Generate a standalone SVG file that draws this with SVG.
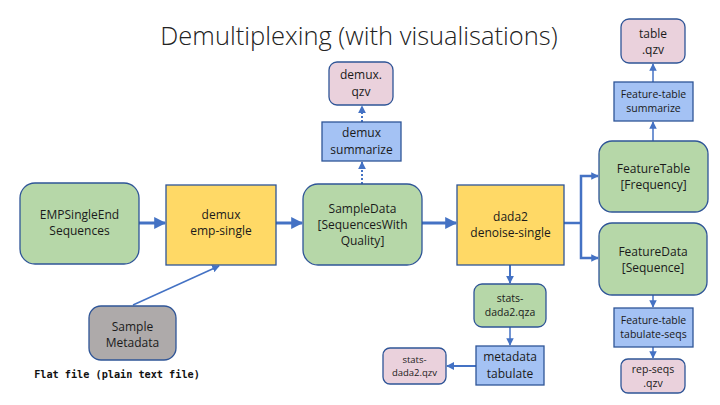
<svg xmlns="http://www.w3.org/2000/svg" width="720" height="405" viewBox="0 0 720 405">
<style>
text{font-family:"Open Sans","Liberation Sans",sans-serif;fill:#1a1a1a;text-anchor:middle}
.t{font-size:12px}
.s{font-size:10.5px}
.xs{font-size:9.5px}
.g{fill:#B6D7A8;stroke:#2F5597;stroke-width:1.3}
.y{fill:#FFD966;stroke:#2F5597;stroke-width:1.3}
.b{fill:#A4C2F4;stroke:#2F5597;stroke-width:1.3}
.p{fill:#EAD1DC;stroke:#2F5597;stroke-width:1.3}
.gr{fill:#AEAAAA;stroke:#2F5597;stroke-width:1.3}
.c{fill:none;stroke:#4472C4}
.thick{stroke-width:3}
.med{stroke-width:2}
.thin{stroke-width:1.5}
.dot{stroke-width:2;stroke-dasharray:2 2}
</style>
<defs>
<marker id="ah" viewBox="0 0 10 10" refX="9" refY="5" markerWidth="4" markerHeight="4" orient="auto" markerUnits="strokeWidth"><path d="M0,0 L10,5 L0,10 z" fill="#4472C4"/></marker>
<marker id="ahs" viewBox="0 0 10 10" refX="9" refY="5" markerWidth="5" markerHeight="5" orient="auto" markerUnits="strokeWidth"><path d="M0,0 L10,5 L0,10 z" fill="#4472C4"/></marker>
</defs>
<rect width="720" height="405" fill="#ffffff"/>
<text x="359" y="45" style="font-size:25.5px;font-weight:300;fill:#222">Demultiplexing (with visualisations)</text>

<g id="connectors">
<line class="c thick" x1="139" y1="223" x2="165" y2="223" marker-end="url(#ah)"/>
<line class="c thick" x1="276" y1="223" x2="302" y2="223" marker-end="url(#ah)"/>
<line class="c thick" x1="422" y1="223" x2="456" y2="223" marker-end="url(#ah)"/>
<line class="c thin" x1="133" y1="305" x2="219" y2="266" marker-end="url(#ahs)"/>
<line class="c dot" x1="362" y1="184" x2="362" y2="162" marker-end="url(#ah)"/>
<line class="c dot" x1="362" y1="122" x2="362" y2="106" marker-end="url(#ah)"/>
<polyline class="c" stroke-width="2.5" points="564,223 581,223"/>
<polyline class="c" stroke-width="2.5" points="598,176 581,176 581,258 598,258" />
<line class="c thin" x1="585" y1="176" x2="598" y2="176" marker-end="url(#ahs)"/>
<line class="c thin" x1="585" y1="258" x2="598" y2="258" marker-end="url(#ahs)"/>
<line class="c thin" x1="653" y1="141" x2="653" y2="122" marker-end="url(#ahs)"/>
<line class="c thin" x1="653" y1="82" x2="653" y2="64" marker-end="url(#ahs)"/>
<line class="c med" x1="510" y1="265" x2="510" y2="283" marker-end="url(#ah)"/>
<line class="c thin" x1="510" y1="327" x2="510" y2="345" marker-end="url(#ahs)"/>
<line class="c med" x1="476" y1="366" x2="447" y2="366" marker-end="url(#ah)"/>
<line class="c thin" x1="653" y1="295" x2="653" y2="307" marker-end="url(#ahs)"/>
<line class="c thin" x1="653" y1="347" x2="653" y2="358" marker-end="url(#ahs)"/>
</g>

<g id="emp">
<rect class="g" x="20" y="183" width="119" height="81" rx="15"/>
<text class="t" x="79.5" y="219">EMPSingleEnd</text>
<text class="t" x="79.5" y="235">Sequences</text>
</g>
<g id="demux-emp-single">
<rect class="y" x="166" y="185" width="110" height="80"/>
<text class="t" x="221" y="219">demux</text>
<text class="t" x="221" y="235">emp-single</text>
</g>
<g id="sample-metadata">
<rect class="gr" x="89" y="306" width="87" height="54" rx="12"/>
<text class="t" x="132.5" y="331">Sample</text>
<text class="t" x="132.5" y="347">Metadata</text>
</g>
<text x="117" y="378" style="font-family:'DejaVu Sans Mono',monospace;font-size:10.2px;font-weight:bold;fill:#111">Flat file (plain text file)</text>
<g id="sampledata">
<rect class="g" x="303" y="184" width="119" height="81" rx="15"/>
<text class="t" x="362.5" y="213">SampleData</text>
<text class="t" x="362.5" y="229">[SequencesWith</text>
<text class="t" x="362.5" y="245">Quality]</text>
</g>
<g id="demux-summarize">
<rect class="b" x="322" y="122" width="79" height="39"/>
<text class="t" x="361.5" y="137">demux</text>
<text class="t" x="361.5" y="154">summarize</text>
</g>
<g id="demux-qzv">
<rect class="p" x="329" y="62" width="64" height="43" rx="8"/>
<text class="t" x="361" y="79">demux.</text>
<text class="t" x="361" y="96">qzv</text>
</g>
<g id="dada2">
<rect class="y" x="457" y="185" width="107" height="80"/>
<text class="t" x="510.5" y="221">dada2</text>
<text class="t" x="510.5" y="237">denoise-single</text>
</g>
<g id="featuretable">
<rect class="g" x="599" y="141" width="109" height="71" rx="13"/>
<text class="t" x="653.5" y="173">FeatureTable</text>
<text class="t" x="653.5" y="189">[Frequency]</text>
</g>
<g id="ft-summarize">
<rect class="b" x="614" y="82" width="79" height="39"/>
<text class="s" x="653.5" y="98">Feature-table</text>
<text class="s" x="653.5" y="112">summarize</text>
</g>
<g id="table-qzv">
<rect class="p" x="621" y="19" width="64" height="44" rx="8"/>
<text class="t" x="653" y="38">table</text>
<text class="t" x="653" y="54">.qzv</text>
</g>
<g id="featuredata">
<rect class="g" x="599" y="223" width="108" height="72" rx="13"/>
<text class="t" x="653" y="256">FeatureData</text>
<text class="t" x="653" y="272">[Sequence]</text>
</g>
<g id="tabulate-seqs">
<rect class="b" x="614" y="308" width="79" height="39"/>
<text class="s" x="653.5" y="324">Feature-table</text>
<text class="s" x="653.5" y="338">tabulate-seqs</text>
</g>
<g id="rep-seqs">
<rect class="p" x="621" y="359" width="64" height="34" rx="7"/>
<text class="s" x="653" y="373">rep-seqs</text>
<text class="s" x="653" y="387">.qzv</text>
</g>
<g id="stats-qza">
<rect class="g" x="474" y="284" width="72" height="43" rx="8"/>
<text class="s" x="510" y="302">stats-</text>
<text class="s" x="510" y="316">dada2.qza</text>
</g>
<g id="metadata-tabulate">
<rect class="b" x="476" y="346" width="68" height="39"/>
<text class="t" x="510" y="361">metadata</text>
<text class="t" x="510" y="378">tabulate</text>
</g>
<g id="stats-qzv">
<rect class="p" x="383" y="348" width="63" height="36" rx="7"/>
<text class="xs" x="414.5" y="363">stats-</text>
<text class="xs" x="414.5" y="376">dada2.qzv</text>
</g>
</svg>
